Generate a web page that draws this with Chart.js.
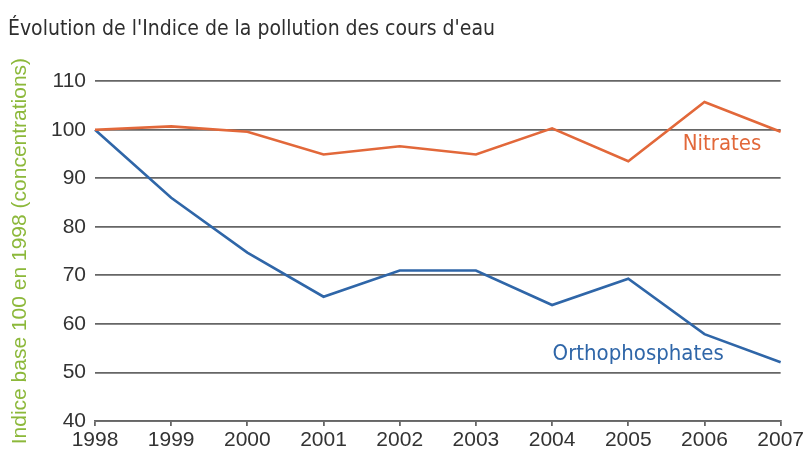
<!DOCTYPE html>
<html lang="fr">
<head>
<meta charset="utf-8">
<title>Évolution de l'indice de la pollution des cours d'eau</title>
<script src="https://cdn.jsdelivr.net/npm/chart.js@4/dist/chart.umd.min.js"></script>
<style>
  html, body { margin: 0; padding: 0; background: #fff; }
  #wrap { width: 806px; height: 455px; position: relative; }
</style>
</head>
<body>
<div id="wrap"><canvas id="chart"></canvas></div>
<script>
const years = ["1998", "1999", "2000", "2001", "2002", "2003", "2004", "2005", "2006", "2007"];
const nitrates = [100, 100.7, 99.6, 94.9, 96.6, 94.9, 100.3, 93.5, 105.7, 99.6];
const orthophosphates = [100, 86, 74.7, 65.6, 71, 71, 63.9, 69.3, 57.9, 52.1];
const yTicks = [40, 50, 60, 70, 80, 90, 100, 110];

const narrow = '"Liberation Sans Narrow", "DejaVu Sans Condensed", sans-serif';
const orange = "#e2683a";
const blue = "#2f66a8";

// series names written next to the lines, placed in data coordinates
const lineLabels = [
  { text: "Nitrates", x: 8.23, y: 97.1, color: orange },
  { text: "Orthophosphates", x: 7.13, y: 53.8, color: blue },
];

const labelPlugin = {
  id: "lineLabels",
  afterDatasetsDraw(chart) {
    const ctx = chart.ctx;
    const xs = chart.scales.x;
    const ys = chart.scales.y;
    ctx.save();
    ctx.font = "22px " + narrow;
    ctx.textAlign = "center";
    ctx.textBaseline = "middle";
    lineLabels.forEach((l) => {
      ctx.fillStyle = l.color;
      ctx.fillText(l.text, xs.getPixelForValue(l.x), ys.getPixelForValue(l.y));
    });
    ctx.restore();
  },
};

const ctx = document.getElementById("chart").getContext("2d");
new Chart(ctx, {
  type: "line",
  data: {
    labels: years,
    datasets: [
      {
        label: "Nitrates",
        data: nitrates,
        borderColor: orange,
        borderWidth: 2.6,
        pointRadius: 0,
        tension: 0,
      },
      {
        label: "Orthophosphates",
        data: orthophosphates,
        borderColor: blue,
        borderWidth: 2.6,
        pointRadius: 0,
        tension: 0,
      },
    ],
  },
  options: {
    responsive: true,
    maintainAspectRatio: false,
    animation: false,
    layout: { padding: { left: 8, right: 23, top: 0, bottom: 0 } },
    plugins: {
      legend: { display: false },
      tooltip: { enabled: false },
      title: {
        display: true,
        text: "Évolution de l'Indice de la pollution des cours d'eau",
        align: "start",
        color: "#2e2e2e",
        font: { family: narrow, size: 21, weight: "normal" },
        padding: { top: 17, bottom: 39 },
      },
    },
    scales: {
      x: {
        grid: { drawOnChartArea: false, drawTicks: true, tickLength: 5, color: "#666666", lineWidth: 1.8 },
        border: { display: true, color: "#666666", width: 1.8 },
        ticks: {
          color: "#333333",
          padding: 2,
          maxRotation: 0,
          autoSkip: false,
          font: { family: "Liberation Sans, Arial, sans-serif", size: 21 },
        },
        afterFit(scale) {
          scale.height = 34;
        },
      },
      y: {
        min: 40,
        max: 110,
        afterBuildTicks(scale) {
          scale.ticks = yTicks.map((v) => ({ value: v }));
        },
        grid: {
          drawTicks: false,
          color: "#666666",
          lineWidth: 1.8,
        },
        border: { display: false },
        ticks: {
          color: "#333333",
          padding: 9,
          font: { family: "Liberation Sans, Arial, sans-serif", size: 21 },
        },
        title: {
          display: true,
          text: "Indice base 100 en 1998 (concentrations)",
          color: "#8cb83a",
          font: { family: "Liberation Sans, Arial, sans-serif", size: 21 },
          padding: { top: 0, bottom: 0 },
        },
        afterFit(scale) {
          scale.width = 87;
        },
      },
    },
  },
  plugins: [labelPlugin],
});
</script>
</body>
</html>
